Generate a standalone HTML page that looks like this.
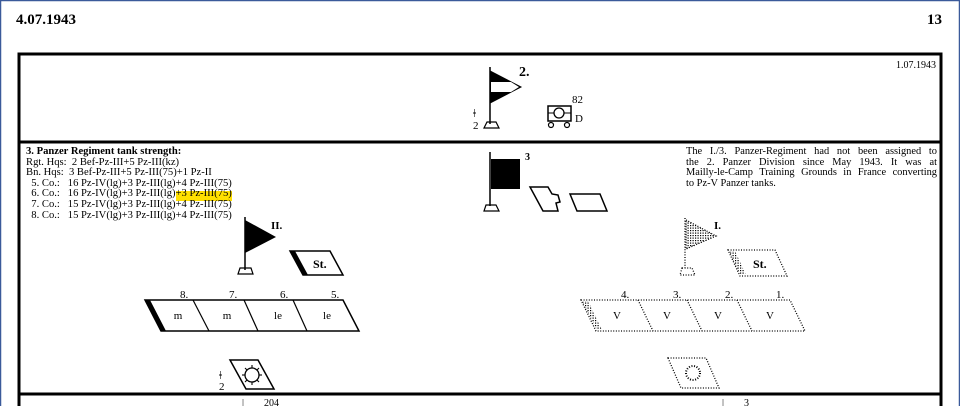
<!DOCTYPE html>
<html><head><meta charset="utf-8"><style>
html,body{margin:0;padding:0;background:#fff;}
body{width:960px;height:406px;overflow:hidden;position:relative;font-family:"Liberation Serif",serif;}
svg{position:absolute;left:0;top:0;}
.t{font-family:"Liberation Serif",serif;fill:#000;}
.note{position:absolute;left:686px;top:147px;width:251px;font-size:10.4px;line-height:10.6px;}
.note div{text-align:justify;text-align-last:justify;white-space:nowrap;}
.note div.l{text-align-last:left;}
.str{position:absolute;left:26px;top:147px;font-size:10.6px;line-height:10.6px;white-space:pre;}
</style></head><body>
<svg width="960" height="406" viewBox="0 0 960 406">
<defs><pattern id="dots" width="2.5" height="2.5" patternUnits="userSpaceOnUse"><rect width="1.2" height="1.2" fill="#000"/></pattern></defs>
<rect x="0.5" y="0.5" width="959" height="420" fill="none" stroke="#3b5a9a" stroke-width="1.5"/>
<text class="t" x="16" y="24" font-size="15" font-weight="bold">4.07.1943</text>
<text class="t" x="942" y="24" font-size="15" font-weight="bold" text-anchor="end">13</text>
<rect x="19" y="54" width="922" height="360" fill="none" stroke="#000" stroke-width="3"/>
<line x1="19" y1="142" x2="941" y2="142" stroke="#000" stroke-width="3"/>
<line x1="19" y1="394" x2="941" y2="394" stroke="#000" stroke-width="3"/>
<text class="t" x="936" y="68" font-size="10" text-anchor="end">1.07.1943</text>
<!-- top flag -->
<line x1="490" y1="67" x2="490" y2="124" stroke="#000" stroke-width="1.5"/>
<polygon points="490,71 521,87 490,103" fill="#000" stroke="#000" stroke-width="1"/>
<polygon points="491,82 511,82 519,87 511,92 491,92" fill="#fff"/>
<polygon points="487,122 496,122 499,128 484,128" fill="none" stroke="#000" stroke-width="1.2"/>
<text class="t" x="519" y="76" font-size="14" font-weight="bold">2.</text>
<text class="t" x="473" y="117" font-size="12">ǂ</text>
<text class="t" x="473" y="129" font-size="11">2</text>
<rect x="548" y="106" width="23" height="15" fill="none" stroke="#000" stroke-width="1.5"/>
<line x1="548" y1="113" x2="571" y2="113" stroke="#000" stroke-width="1"/>
<circle cx="559" cy="113" r="5" fill="#fff" stroke="#000" stroke-width="1.3"/>
<circle cx="551" cy="125" r="2.5" fill="none" stroke="#000" stroke-width="1.2"/>
<circle cx="567" cy="125" r="2.5" fill="none" stroke="#000" stroke-width="1.2"/>
<text class="t" x="572" y="103" font-size="11">82</text>
<text class="t" x="575" y="122" font-size="11">D</text>
<!-- highlight -->
<rect x="176" y="191" width="56" height="10" fill="#ffe000"/>
<!-- black flag 3 -->
<line x1="490" y1="152" x2="490" y2="206" stroke="#000" stroke-width="1.5"/>
<rect x="491" y="159" width="29" height="30" fill="#000"/>
<text class="t" x="525" y="160" font-size="10" font-weight="bold">3</text>
<polygon points="486,205 496,205 499,211 484,211" fill="none" stroke="#000" stroke-width="1.2"/>
<polygon points="530,187 548,187 552,194 558,195 560,202 556,203 558,211 543,211" fill="none" stroke="#000" stroke-width="1.5"/>
<polygon points="570,194 600,194 607,211 577,211" fill="none" stroke="#000" stroke-width="1.5"/>
<!-- II flag -->
<line x1="245" y1="217" x2="245" y2="270" stroke="#000" stroke-width="1.5"/>
<polygon points="245,220 276,237 245,253" fill="#000"/>
<text class="t" x="271" y="229" font-size="11" font-weight="bold">II.</text>
<polygon points="240,268 251,268 253,274 238,274" fill="none" stroke="#000" stroke-width="1.2"/>
<polygon points="290,251 330,251 343,275 303,275" fill="none" stroke="#000" stroke-width="1.5"/>
<polygon points="290,251 295,251 308,275 303,275" fill="#000"/>
<text class="t" x="313" y="268" font-size="12" font-weight="bold">St.</text>
<!-- company row left -->
<polygon points="145,300 343,300 359,331 161,331" fill="none" stroke="#000" stroke-width="1.5"/>
<polygon points="145,300 150,300 166,331 161,331" fill="#000"/>
<line x1="193" y1="300" x2="209" y2="331" stroke="#000" stroke-width="1.2"/>
<line x1="244" y1="300" x2="258" y2="331" stroke="#000" stroke-width="1.2"/>
<line x1="293" y1="300" x2="307" y2="331" stroke="#000" stroke-width="1.2"/>
<g class="t" font-size="11"><text x="180" y="298">8.</text><text x="229" y="298">7.</text><text x="280" y="298">6.</text><text x="331" y="298">5.</text></g>
<g class="t" font-size="11" text-anchor="middle"><text x="178" y="319">m</text><text x="227" y="319">m</text><text x="278" y="319">le</text><text x="327" y="319">le</text></g>
<!-- sun left -->
<polygon points="230,360 258,360 274,389 246,389" fill="none" stroke="#000" stroke-width="1.5"/>
<circle cx="252" cy="375" r="7" fill="none" stroke="#000" stroke-width="1.3"/>
<g stroke="#000" stroke-width="1.1"><line x1="252" y1="365" x2="252" y2="368"/><line x1="252" y1="382" x2="252" y2="385"/><line x1="242" y1="375" x2="245" y2="375"/><line x1="259" y1="375" x2="262" y2="375"/><line x1="245" y1="368" x2="247" y2="370"/><line x1="257" y1="380" x2="259" y2="382"/><line x1="259" y1="368" x2="257" y2="370"/><line x1="247" y1="380" x2="245" y2="382"/></g>
<text class="t" x="219" y="379" font-size="12">ǂ</text>
<text class="t" x="219" y="390" font-size="11">2</text>
<!-- dotted right side -->
<g fill="none" stroke="#000" stroke-width="1.3" stroke-dasharray="1,1.6">
<line x1="685" y1="218" x2="685" y2="268"/>
<polygon points="686,220 716,236 686,249"/>
<polygon points="682,268 692,268 695,275 680,275"/>
<polygon points="728,250 775,250 787,276 740,276"/>
<polygon points="581,300 790,300 805,331 596,331"/>
<line x1="638" y1="300" x2="653" y2="331"/><line x1="687" y1="300" x2="702" y2="331"/><line x1="737" y1="300" x2="752" y2="331"/>
<polygon points="668,358 706,358 719,388 681,388"/>
<circle cx="693" cy="373" r="7" stroke-width="2"/>
</g>
<polygon points="686,220 716,236 686,249" fill="url(#dots)"/>
<polygon points="729,251 735,251 746,275 740,275" fill="url(#dots)"/>
<polygon points="582,301 588,301 602,330 597,330" fill="url(#dots)"/>
<text class="t" x="714" y="229" font-size="11" font-weight="bold">I.</text>
<text class="t" x="753" y="268" font-size="12" font-weight="bold">St.</text>
<g class="t" font-size="11"><text x="621" y="298">4.</text><text x="673" y="298">3.</text><text x="725" y="298">2.</text><text x="776" y="298">1.</text></g>
<g class="t" font-size="11" text-anchor="middle"><text x="617" y="319">V</text><text x="667" y="319">V</text><text x="718" y="319">V</text><text x="770" y="319">V</text></g>
<text class="t" x="242" y="406" font-size="10">ǀ&#160;&#160;&#160;&#160;&#160;&#160;&#160;&#160;204</text>
<text class="t" x="722" y="406" font-size="10">ǀ&#160;&#160;&#160;&#160;&#160;&#160;&#160;&#160;3</text>
</svg>
<div class="str"><b>3. Panzer Regiment tank strength:</b>
Rgt. Hqs:  2 Bef-Pz-III+5 Pz-III(kz)
Bn. Hqs:  3 Bef-Pz-III+5 Pz-III(75)+1 Pz-II
  5. Co.:   16 Pz-IV(lg)+3 Pz-III(lg)+4 Pz-III(75)
  6. Co.:   16 Pz-IV(lg)+3 Pz-III(lg)+3 Pz-III(75)
  7. Co.:   15 Pz-IV(lg)+3 Pz-III(lg)+4 Pz-III(75)
  8. Co.:   15 Pz-IV(lg)+3 Pz-III(lg)+4 Pz-III(75)</div>
<div class="note"><div>The I./3. Panzer-Regiment had not been assigned to</div><div>the 2. Panzer Division since May 1943. It was at</div><div>Mailly-le-Camp Training Grounds in France converting</div><div class="l">to Pz-V Panzer tanks.</div></div>
</body></html>
